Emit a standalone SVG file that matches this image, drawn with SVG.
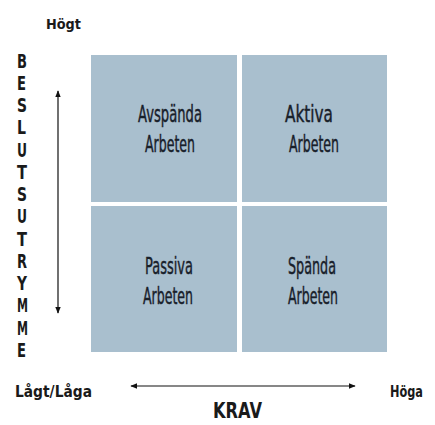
<svg xmlns="http://www.w3.org/2000/svg" width="435" height="425" viewBox="0 0 435 425">
<defs>
<style>
.q{fill:#a9bfce;}
.t{font-family:"DejaVu Sans","Liberation Sans",sans-serif;font-size:23px;fill:#18202a;stroke:#18202a;stroke-width:0.45;text-anchor:middle;}
.b{font-family:"DejaVu Sans","Liberation Sans",sans-serif;font-weight:bold;fill:#1a1a1a;}
.v{font-size:20px;}
.ln{stroke:#111;stroke-width:1.2;fill:none;}
</style>
<marker id="ah" viewBox="0 0 10 10" refX="9" refY="5" markerWidth="7" markerHeight="7" orient="auto-start-reverse" markerUnits="userSpaceOnUse">
<path d="M0,1 L10,5 L0,9 z" fill="#111"/>
</marker>
</defs>
<rect width="435" height="425" fill="#fff"/>
<g id="avspanda">
<rect class="q" x="91" y="55" width="146" height="147"/>
<text class="t" x="170" y="122" textLength="64" lengthAdjust="spacingAndGlyphs">Avspända</text>
<text class="t" x="170" y="152" textLength="50" lengthAdjust="spacingAndGlyphs">Arbeten</text>
</g>
<g id="aktiva">
<rect class="q" x="242" y="55" width="145" height="147"/>
<text class="t" x="309" y="122" textLength="48" lengthAdjust="spacingAndGlyphs">Aktiva</text>
<text class="t" x="314" y="152" textLength="50" lengthAdjust="spacingAndGlyphs">Arbeten</text>
</g>
<g id="passiva">
<rect class="q" x="91" y="206" width="146" height="146"/>
<text class="t" x="169" y="274" textLength="48" lengthAdjust="spacingAndGlyphs">Passiva</text>
<text class="t" x="168" y="304" textLength="50" lengthAdjust="spacingAndGlyphs">Arbeten</text>
</g>
<g id="spanda">
<rect class="q" x="242" y="206" width="145" height="146"/>
<text class="t" x="312" y="274" textLength="48" lengthAdjust="spacingAndGlyphs">Spända</text>
<text class="t" x="313" y="304" textLength="50" lengthAdjust="spacingAndGlyphs">Arbeten</text>
</g>
<g id="labels">
<text class="b" x="46" y="29" font-size="14" textLength="35" lengthAdjust="spacingAndGlyphs">Högt</text>
<text class="b" x="15" y="397" font-size="15" textLength="77" lengthAdjust="spacingAndGlyphs">Lågt/Låga</text>
<text class="b" x="390" y="397" font-size="15" textLength="33" lengthAdjust="spacingAndGlyphs">Höga</text>
<text class="b" x="213" y="418" font-size="22" textLength="49" lengthAdjust="spacingAndGlyphs">KRAV</text>
<g class="b v">
<text x="17" y="68" textLength="10" lengthAdjust="spacingAndGlyphs">B</text>
<text x="17" y="90" textLength="9" lengthAdjust="spacingAndGlyphs">E</text>
<text x="17" y="112" textLength="10" lengthAdjust="spacingAndGlyphs">S</text>
<text x="17" y="134" textLength="9" lengthAdjust="spacingAndGlyphs">L</text>
<text x="17" y="157" textLength="10" lengthAdjust="spacingAndGlyphs">U</text>
<text x="17" y="179" textLength="10" lengthAdjust="spacingAndGlyphs">T</text>
<text x="17" y="201" textLength="10" lengthAdjust="spacingAndGlyphs">S</text>
<text x="17" y="223" textLength="10" lengthAdjust="spacingAndGlyphs">U</text>
<text x="17" y="246" textLength="10" lengthAdjust="spacingAndGlyphs">T</text>
<text x="17" y="268" textLength="10" lengthAdjust="spacingAndGlyphs">R</text>
<text x="17" y="290" textLength="10" lengthAdjust="spacingAndGlyphs">Y</text>
<text x="17" y="312" textLength="11" lengthAdjust="spacingAndGlyphs">M</text>
<text x="17" y="335" textLength="11" lengthAdjust="spacingAndGlyphs">M</text>
<text x="17" y="357" textLength="9" lengthAdjust="spacingAndGlyphs">E</text>
</g>
</g>
<g id="connectors">
<line class="ln" x1="58" y1="91" x2="58" y2="313" marker-start="url(#ah)" marker-end="url(#ah)"/>
<line class="ln" x1="131" y1="386" x2="355" y2="386" marker-start="url(#ah)" marker-end="url(#ah)"/>
</g>
</svg>
